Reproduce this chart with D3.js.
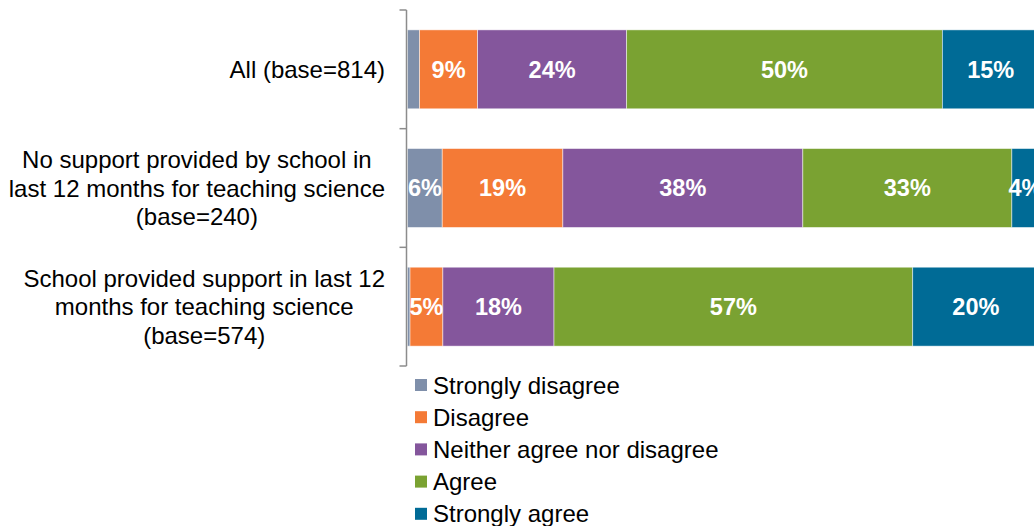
<!DOCTYPE html>
<html>
<head>
<meta charset="utf-8">
<script src="https://cdn.jsdelivr.net/npm/d3@7"></script>
<style>
  html, body { margin: 0; padding: 0; background: #fff; }
  svg { display: block; font-family: "Liberation Sans", Arial, sans-serif; }
</style>
</head>
<body>
<div id="chart"></div>
<script>
const width = 1034;
const height = 526;

// Categories (rows), each label split into lines
const categories = ["all", "noSupport", "support"];
const categoryLines = [
  ["All (base=814)"],
  ["No support provided by school in", "last 12 months for teaching science", "(base=240)"],
  ["School provided support in last 12", "months for teaching science", "(base=574)"]
];

// Response scale, in stack order
const responses = ["Strongly disagree", "Disagree", "Neither agree nor disagree", "Agree", "Strongly agree"];
const colors = ["#7f8faa", "#f47a36", "#84569c", "#7aa232", "#006b96"];

// Percentages per row
const stronglyDisagree = [1.9, 5.5, 0.4];
const disagree         = [9.2, 19.1, 5.2];
const neither          = [23.6, 38.0, 17.6];
const agree            = [50.0, 33.1, 56.8];
const stronglyAgree    = [15.3, 4.3, 20.0];

const seriesValues = [stronglyDisagree, disagree, neither, agree, stronglyAgree];

// table for d3.stack
const table = categories.map((c, i) => {
  const row = { cat: c };
  responses.forEach((r, j) => { row[r] = seriesValues[j][i]; });
  return row;
});

const stacked = d3.stack().keys(responses)(table);

const svg = d3.select('#chart')
  .append('svg')
  .attr('width', width)
  .attr('height', height);

const x = d3.scaleLinear()
  .domain([0, 100])
  .range([407.5, 1039]);

const y = d3.scaleBand()
  .domain(categories)
  .range([10, 366])
  .paddingInner(0.335)
  .paddingOuter(0.1675);

// Bars
const layers = svg.append('g')
  .selectAll('g')
  .data(stacked)
  .join('g')
    .attr('fill', (d, i) => colors[i]);

layers.selectAll('rect')
  .data(d => d)
  .join('rect')
    .attr('x', d => x(d[0]))
    .attr('y', d => y(d.data.cat))
    .attr('width', d => x(d[1]) - x(d[0]))
    .attr('height', y.bandwidth())
    .attr('stroke', 'rgba(255,255,255,0.6)')
    .attr('stroke-width', 0.8);

// Value labels (only where the segment is wide enough)
layers.selectAll('text')
  .data(d => d.filter(s => s[1] - s[0] >= 3))
  .join('text')
    .attr('x', d => x((d[0] + d[1]) / 2))
    .attr('y', d => y(d.data.cat) + y.bandwidth() / 2)
    .attr('dy', '0.36em')
    .attr('text-anchor', 'middle')
    .attr('fill', '#fff')
    .attr('font-weight', 'bold')
    .attr('font-size', 23.5)
    .text(d => Math.round(d[1] - d[0]) + '%');

// Category axis: line with ticks between bands
const axisX = 406.5;
const [y0, y1] = y.range();
const boundaries = d3.range(categories.length + 1).map(i => y0 + i * y.step());
const axis = svg.append('g')
  .attr('stroke', '#8c8c8c')
  .attr('stroke-width', 1.5);
axis.append('line')
  .attr('x1', axisX).attr('x2', axisX)
  .attr('y1', y0).attr('y2', y1);
axis.selectAll('.tick')
  .data(boundaries)
  .join('line')
    .attr('class', 'tick')
    .attr('x1', axisX - 7).attr('x2', axisX)
    .attr('y1', d => d).attr('y2', d => d);

// Category labels: centred lines, block right-aligned near the axis
const lineH = 28.5;
const labels = svg.append('g')
  .selectAll('g')
  .data(categories)
  .join('g');

labels.each(function(c, i) {
  const lines = categoryLines[i];
  const g = d3.select(this);
  const cy = y(c) + y.bandwidth() / 2;
  const texts = g.selectAll('text')
    .data(lines)
    .join('text')
      .attr('font-size', 24)
      .attr('fill', '#000')
      .attr('text-anchor', 'middle')
      .attr('y', (d, k) => cy + (k - (lines.length - 1) / 2) * lineH)
      .attr('dy', '0.36em')
      .text(d => d);
  let maxW = 0;
  texts.each(function() { maxW = Math.max(maxW, this.getComputedTextLength()); });
  texts.attr('x', 385 - maxW / 2);
});

// Legend
const legend = svg.append('g')
  .selectAll('g')
  .data(responses)
  .join('g')
    .attr('transform', (d, i) => `translate(415, ${385 + i * 32.2})`);

legend.append('rect')
  .attr('x', 0)
  .attr('y', -6)
  .attr('width', 12)
  .attr('height', 12)
  .attr('fill', (d, i) => colors[i]);

legend.append('text')
  .attr('x', 18)
  .attr('dy', '0.36em')
  .attr('font-size', 24)
  .attr('fill', '#000')
  .text(d => d);
</script>
</body>
</html>
